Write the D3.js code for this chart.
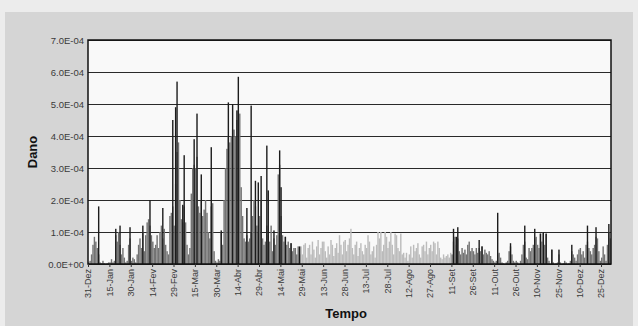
<!DOCTYPE html>
<html>
<head>
<meta charset="utf-8">
<script src="https://cdn.jsdelivr.net/npm/d3@7"></script>
<style>
  body { margin: 0; background: #ececec; }
  svg { display: block; }
  text { font-family: "Liberation Sans", Arial, sans-serif; }
</style>
</head>
<body>
<svg id="chart" width="638" height="326"></svg>
<script>
// dano diario (em unidades de 1E-04), 31-Dez-2011 .. 31-Dez-2012, uma linha = 15 dias
var danoCinza = [
  0.05, 0.1, 0.3, 0.6, 0.85, 0.7, 0.5, 0.3, 0.05, 0.02, 0.1, 0.02, 0.0, 0.02, 0.05,
  0.05, 0.15, 0.05, 0.1, 0.9, 0.7, 1.0, 0.6, 0.3, 0.5, 0.2, 0.05, 0.1, 0.6, 0.8,
  0.1, 0.2, 0.15, 0.05, 0.3, 0.6, 0.8, 0.5, 1.0, 0.4, 0.9, 1.3, 1.4, 1.2, 0.9,
  0.7, 0.5, 0.6, 0.9, 0.5, 1.0, 1.2, 0.8, 1.1, 0.6, 0.4, 0.3, 1.5, 1.6, 1.8,
  1.2, 2.5, 3.5, 3.8, 2.0, 1.4, 1.3, 1.8, 1.3, 0.6, 0.3, 0.5, 2.2, 3.0, 3.1,
  3.0, 3.35, 1.8, 1.6, 2.0, 1.5, 1.7, 2.0, 1.6, 1.0, 0.8, 1.8, 1.9, 0.4, 0.1,
  0.05, 0.15, 0.1, 1.0, 0.6, 2.0, 3.0, 3.6, 4.0, 3.8, 4.0, 4.2, 4.2, 4.0, 4.5,
  4.8, 4.7, 2.4, 1.5, 0.8, 0.7, 0.9, 0.7, 0.8, 1.0, 1.5, 2.0, 1.8, 1.2, 1.0,
  1.5, 2.0, 0.8, 0.6, 0.7, 1.2, 0.9, 0.7, 1.2, 0.4, 0.8, 0.6, 0.9, 2.8, 3.1,
  1.5, 0.9, 0.7, 0.85, 0.6, 0.7, 0.5, 0.65, 0.4, 0.5, 0.5, 0.3, 0.55, 0.3, 0.55,
  0.3, 0.6, 0.65, 0.2, 0.5, 0.6, 0.3, 0.7, 0.45, 0.2, 0.55, 0.75, 0.3, 0.5, 0.7,
  0.7, 0.4, 0.2, 0.55, 0.3, 0.75, 0.6, 0.25, 0.5, 0.65, 0.35, 0.9, 0.6, 0.3, 0.7,
  0.75, 0.4, 0.6, 0.8, 1.1, 0.5, 0.3, 0.6, 0.7, 0.25, 0.5, 0.65, 0.4, 0.3, 0.6,
  0.5, 0.9, 0.7, 0.3, 0.4, 0.55, 0.2, 0.6, 1.0, 0.8, 1.0, 0.4, 0.6, 1.0, 0.85,
  0.5, 0.7, 1.0, 0.6, 0.3, 0.95, 0.9, 0.5, 0.4, 0.95, 0.3, 0.35, 0.2, 0.35, 0.1,
  0.3, 0.55, 0.2, 0.6, 0.4, 0.5, 0.65, 0.3, 0.2, 0.55, 0.6, 0.4, 0.7, 0.3, 0.5,
  0.6, 0.4, 0.7, 0.65, 0.3, 0.7, 0.5, 0.2, 0.15, 0.3, 0.2, 0.25, 0.3, 0.2, 0.35,
  0.3, 0.7, 0.85, 0.6, 0.8, 0.4, 0.3, 0.5, 0.35, 0.45, 0.3, 0.6, 0.7, 0.4, 0.5,
  0.4, 0.3, 0.5, 0.35, 0.5, 0.4, 0.55, 0.3, 0.45, 0.35, 0.3, 0.4, 0.25, 0.15, 0.1,
  0.05, 0.1, 0.3, 0.35, 0.2, 0.05, 0.02, 0.0, 0.05, 0.1, 0.4, 0.55, 0.3, 0.1, 0.05,
  0.1, 0.05, 0.0, 0.1, 0.3, 0.6, 0.7, 0.2, 0.15, 0.5, 0.4, 0.5, 0.6, 0.8, 0.85,
  0.6, 0.5, 0.95, 0.7, 1.0, 0.6, 0.95, 0.2, 0.1, 0.0, 0.45, 0.05, 0.0, 0.02, 0.05,
  0.3, 0.05, 0.0, 0.02, 0.1, 0.05, 0.0, 0.02, 0.1, 0.4, 0.3, 0.2, 0.1, 0.3, 0.45,
  0.5, 0.3, 0.4, 0.2, 0.6, 0.7, 0.5, 0.4, 0.3, 0.5, 0.6, 0.85, 0.8, 0.4, 0.1,
  0.2, 0.55, 0.3, 0.1, 0.6, 1.0, 0.8
]

// picos (serie escura): [dia desde 31-Dez, dano em 1E-04]
var picos = [
  [7, 1.8], [19, 1.1], [22, 1.2], [29, 1.15], [38, 1.2], [43, 2.0], [52, 1.75],
  [59, 4.5], [61, 4.9], [62, 5.7], [66, 1.85], [67, 3.4], [74, 3.9], [76, 4.7],
  [79, 2.8], [86, 3.65], [93, 1.05], [98, 5.05], [101, 5.0], [104, 4.8], [105, 5.85],
  [111, 1.75], [114, 4.95], [117, 2.6], [119, 2.55], [121, 2.75], [125, 3.7],
  [126, 2.3], [130, 1.05], [134, 3.55], [135, 2.4], [138, 0.85], [142, 0.65],
  [148, 0.55], [256, 1.1], [258, 0.85], [259, 1.15], [274, 0.75], [276, 0.55],
  [287, 1.6], [296, 0.65], [306, 1.2], [313, 1.1], [317, 0.95], [319, 1.0],
  [321, 0.95], [325, 0.45], [330, 0.45], [339, 0.6], [350, 1.2], [356, 1.15], [365, 1.25]
]

// dias do periodo com barras claras
var periodoClaro = [149, 254]

var rotulosX = ['31-Dez', '15-Jan', '30-Jan', '14-Fev', '29-Fev', '15-Mar', '30-Mar',
  '14-Abr', '29-Abr', '14-Mai', '29-Mai', '13-Jun', '28-Jun', '13-Jul', '28-Jul',
  '12-Ago', '27-Ago', '11-Set', '26-Set', '11-Out', '26-Out', '10-Nov', '25-Nov',
  '10-Dez', '25-Dez']

var rotulosY = ['0.0E+00', '1.0E-04', '2.0E-04', '3.0E-04', '4.0E-04', '5.0E-04', '6.0E-04', '7.0E-04']

var meses = ['Jan', 'Fev', 'Mar', 'Abr', 'Mai', 'Jun', 'Jul', 'Ago', 'Set', 'Out', 'Nov', 'Dez']

var svg = d3.select('#chart')
var margin = {left: 88, right: 27, top: 40, bottom: 62}
var W = 638, H = 326

var inicio = Date.UTC(2011, 11, 31)
var umDia = 864e5
var dia = i => new Date(inicio + i * umDia)

// data de cada rotulo (31-Dez e do ano anterior)
var datasX = rotulosX.map((r, i) => {
  var p = r.split('-')
  return new Date(Date.UTC(i == 0 ? 2011 : 2012, meses.indexOf(p[1]), +p[0]))
})

var x = d3.scaleUtc()
  .domain([dia(0), dia(367)])
  .range([margin.left, W - margin.right])

var y = d3.scaleLinear()
  .domain([0, 7e-4])
  .range([H - margin.bottom, margin.top])

// fundo
svg.append('rect').attr('x', 5).attr('y', 12).attr('width', 628).attr('height', 314).attr('fill', '#d5d5d5')
svg.append('rect')
  .attr('x', margin.left).attr('y', margin.top)
  .attr('width', W - margin.left - margin.right)
  .attr('height', H - margin.top - margin.bottom)
  .attr('fill', '#f9f9f9')

// grelha + eixo y
var gy = svg.append('g')
  .attr('transform', `translate(${margin.left},0)`)
  .call(d3.axisLeft(y)
    .tickValues(rotulosY.map(Number))
    .tickFormat((d, i) => rotulosY[i])
    .tickSize(-(W - margin.left - margin.right))
    .tickPadding(4))
gy.select('.domain').remove()
gy.selectAll('line').attr('stroke', '#2a2a2a').attr('stroke-width', 1)
gy.selectAll('text').attr('fill', '#3a3a3a').attr('font-size', 9.5)

// barras diarias
var dados = danoCinza.map((v, i) => ({i: i, v: v * 1e-4}))
svg.append('g').selectAll('rect')
  .data(dados)
  .enter()
  .append('rect')
  .attr('x', d => x(dia(d.i)))
  .attr('width', d => x(dia(d.i + 1)) - x(dia(d.i)))
  .attr('y', d => y(d.v))
  .attr('height', d => y(0) - y(d.v))
  .attr('fill', d => d.i >= periodoClaro[0] && d.i <= periodoClaro[1] ? '#bcbcbc' : '#737373')

// picos escuros
svg.append('g').selectAll('rect')
  .data(picos)
  .enter()
  .append('rect')
  .attr('x', d => x(dia(d[0])))
  .attr('width', 1.4)
  .attr('y', d => y(d[1] * 1e-4))
  .attr('height', d => y(0) - y(d[1] * 1e-4))
  .attr('fill', '#1c1c1c')

// moldura
svg.append('rect')
  .attr('x', margin.left).attr('y', margin.top)
  .attr('width', W - margin.left - margin.right)
  .attr('height', H - margin.top - margin.bottom)
  .attr('fill', 'none').attr('stroke', '#111').attr('stroke-width', 1.5)

// eixo x
var gx = svg.append('g')
  .attr('transform', `translate(0,${H - margin.bottom})`)
  .call(d3.axisBottom(x)
    .tickValues(datasX)
    .tickFormat((d, i) => rotulosX[i])
    .tickSize(3))
gx.select('.domain').remove()
gx.selectAll('line').attr('stroke', '#333')
gx.selectAll('text')
  .attr('fill', '#3a3a3a')
  .attr('font-size', 9)
  .attr('text-anchor', 'end')
  .attr('transform', 'rotate(-90)')
  .attr('x', -5).attr('y', 0).attr('dy', '0.32em')

// titulos dos eixos
svg.append('text')
  .attr('x', 346).attr('y', 318)
  .attr('text-anchor', 'middle')
  .attr('font-size', 13).attr('font-weight', 'bold').attr('fill', '#111')
  .text('Tempo')

svg.append('text')
  .attr('transform', 'translate(37,152) rotate(-90)')
  .attr('text-anchor', 'middle')
  .attr('font-size', 13).attr('font-weight', 'bold').attr('fill', '#111')
  .text('Dano')
</script>
</body>
</html>
